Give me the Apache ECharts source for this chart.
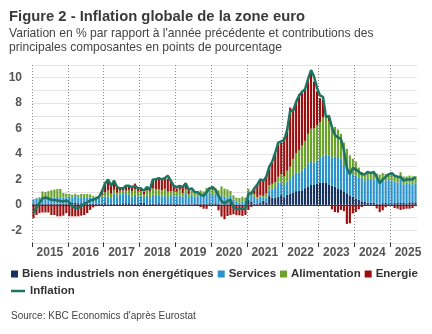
<!DOCTYPE html>
<html>
<head>
<meta charset="utf-8">
<script src="https://cdn.jsdelivr.net/npm/echarts@6/dist/echarts.min.js"></script>
<style>
  html, body { margin: 0; padding: 0; background: #ffffff; }
  #chart { width: 432px; height: 334px; }
</style>
</head>
<body>
<div id="chart"></div>
<script>
// Year labels on the time axis (monthly data from January 2015)
const years = ['2015', '2016', '2017', '2018', '2019', '2020', '2021', '2022', '2023', '2024', '2025'];

// Contributions to euro area HICP inflation, percentage points
const neig = [
  0.1, 0.1, 0.1, 0.1, 0.1, 0.1, 0.1, 0.1, 0.1, 0.1, 0.1, 0.1,
  0.15, 0.15, 0.15, 0.13, 0.13, 0.13, 0.1, 0.1, 0.1, 0.1, 0.1, 0.1,
  0.13, 0.05, 0.08, 0.08, 0.08, 0.11, 0.13, 0.13, 0.13, 0.11, 0.11, 0.11,
  0.18, 0.16, 0.05, 0.08, 0.08, 0.11, 0.13, 0.08, 0.08, 0.11, 0.11, 0.11,
  0.08, 0.1, 0.05, 0.05, 0.08, 0.05, 0.1, 0.08, 0.08, 0.08, 0.1, 0.13,
  0.08, 0.13, 0.08, 0.03, 0.05, 0.05, 0.3, 0.11, -0.03, -0.03, -0.08, -0.13,
  0.4, 0.27, 0.08, 0.11, 0.19, 0.32, 0.19, 0.69, 0.56, 0.53, 0.64, 0.77,
  0.59, 0.79, 0.87, 0.97, 1.08, 1.1, 1.15, 1.31, 1.41, 1.56, 1.56, 1.64,
  1.74, 1.77, 1.72, 1.61, 1.51, 1.43, 1.3, 1.22, 1.07, 0.91, 0.75, 0.65,
  0.51, 0.41, 0.28, 0.23, 0.18, 0.18, 0.18, 0.1, 0.1, 0.13, 0.15, 0.13,
  0.13, 0.15, 0.15, 0.15, 0.15, 0.13, 0.2, 0.2, 0.2
];
const services = [
  0.33, 0.4, 0.42, 0.45, 0.45, 0.48, 0.5, 0.5, 0.52, 0.5, 0.48, 0.48,
  0.5, 0.42, 0.55, 0.45, 0.47, 0.5, 0.5, 0.5, 0.48, 0.45, 0.45, 0.5,
  0.54, 0.59, 0.45, 0.81, 0.59, 0.72, 0.72, 0.72, 0.68, 0.54, 0.68, 0.54,
  0.54, 0.45, 0.68, 0.45, 0.72, 0.59, 0.63, 0.59, 0.68, 0.5, 0.59, 0.59,
  0.6, 0.64, 0.6, 0.87, 0.46, 0.74, 0.55, 0.6, 0.69, 0.69, 0.87, 0.83,
  0.69, 0.74, 0.6, 0.74, 0.6, 0.55, 0.41, 0.32, 0.23, 0.18, 0.28, 0.32,
  0.59, 0.55, 0.55, 0.38, 0.46, 0.29, 0.38, 0.46, 0.71, 0.88, 1.13, 1.0,
  0.97, 1.05, 1.13, 1.39, 1.47, 1.43, 1.55, 1.6, 1.81, 1.81, 1.76, 1.85,
  1.94, 2.11, 2.24, 2.29, 2.2, 2.38, 2.46, 2.42, 2.07, 2.02, 1.76, 1.76,
  1.82, 1.77, 1.82, 1.68, 1.87, 1.87, 1.82, 1.91, 1.82, 1.82, 1.77, 1.82,
  1.78, 1.69, 1.6, 1.83, 1.46, 1.51, 1.46, 1.42, 1.46
];
const food = [
  0.02, 0.05, 0.08, 0.5, 0.45, 0.5, 0.55, 0.6, 0.62, 0.65, 0.35, 0.3,
  0.2, 0.23, 0.17, 0.2, 0.25, 0.22, 0.25, 0.23, 0.12, 0.1, 0.15, 0.2,
  0.33, 0.49, 0.35, 0.29, 0.29, 0.27, 0.27, 0.27, 0.37, 0.45, 0.43, 0.41,
  0.37, 0.2, 0.41, 0.51, 0.51, 0.53, 0.49, 0.47, 0.51, 0.43, 0.37, 0.35,
  0.35, 0.45, 0.29, 0.29, 0.31, 0.31, 0.35, 0.39, 0.37, 0.29, 0.37, 0.41,
  0.42, 0.4, 0.46, 0.68, 0.63, 0.61, 0.38, 0.32, 0.34, 0.36, 0.36, 0.25,
  0.28, 0.26, 0.22, 0.14, 0.12, 0.1, 0.32, 0.4, 0.38, 0.38, 0.44, 0.64,
  0.7, 0.84, 1.0, 1.26, 1.5, 1.78, 1.96, 2.12, 2.36, 2.62, 2.72, 2.76,
  2.82, 3.0, 3.1, 2.7, 2.5, 2.32, 2.16, 1.94, 1.76, 1.48, 1.38, 1.22,
  1.08, 0.75, 0.5, 0.54, 0.5, 0.48, 0.44, 0.46, 0.46, 0.56, 0.52, 0.5,
  0.44, 0.52, 0.56, 0.58, 0.62, 0.6, 0.64, 0.62, 0.58
];
const energy = [
  -1.05, -0.8, -0.65, -0.6, -0.6, -0.6, -0.8, -0.8, -0.9, -0.9, -0.85, -0.65,
  -0.9, -0.9, -0.9, -0.9, -0.85, -0.8, -0.65, -0.4, -0.2, -0.1, -0.05, 0.2,
  0.77, 0.88, 0.7, 0.72, 0.43, 0.18, 0.21, 0.38, 0.37, 0.29, 0.45, 0.28,
  0.21, 0.2, 0.19, 0.25, 0.58, 0.76, 0.9, 0.87, 0.9, 1.02, 0.86, 0.52,
  0.26, 0.35, 0.51, 0.51, 0.37, 0.02, -0.05, -0.06, -0.17, -0.3, -0.31, 0.02,
  0.18, -0.03, -0.43, -0.92, -1.13, -0.88, -0.8, -0.74, -0.78, -0.79, -0.79, -0.66,
  -0.4, -0.16, 0.41, 0.99, 1.24, 1.2, 1.36, 1.46, 1.67, 2.25, 2.61, 2.47,
  3.02, 3.36, 4.65, 3.94, 4.1, 4.41, 4.16, 4.05, 4.27, 4.36, 3.66, 2.68,
  1.89, 1.37, -0.09, 0.24, -0.35, -0.56, -0.61, -0.4, -0.5, -1.5, -1.45, -0.67,
  -0.57, -0.35, -0.17, -0.06, 0.03, 0.02, 0.11, -0.28, -0.57, -0.43, -0.19, 0.01,
  0.15, -0.25, -0.3, -0.4, -0.35, -0.3, -0.3, -0.25, -0.1
];
// Headline HICP inflation, % y/y
const inflation = [
  -0.65, -0.2, 0.15, 0.5, 0.58, 0.5, 0.4, 0.38, 0.35, 0.3, 0.26, 0.35,
  0.2, -0.1, -0.25, -0.25, -0.1, 0.1, 0.2, 0.35, 0.4, 0.5, 0.65, 1.1,
  1.7, 2.0, 1.5, 1.9, 1.4, 1.3, 1.3, 1.5, 1.5, 1.4, 1.5, 1.3,
  1.3, 1.1, 1.4, 1.2, 2.0, 2.0, 2.1, 2.0, 2.1, 2.3, 1.9, 1.5,
  1.4, 1.5, 1.4, 1.7, 1.2, 1.3, 1.0, 1.0, 0.8, 0.7, 1.0, 1.3,
  1.4, 1.2, 0.7, 0.3, 0.1, 0.3, 0.4, -0.2, -0.3, -0.3, -0.3, -0.3,
  0.9, 0.9, 1.3, 1.6, 2.0, 1.9, 2.2, 3.0, 3.4, 4.1, 4.9, 5.0,
  5.1, 5.9, 7.4, 7.4, 8.1, 8.6, 8.9, 9.1, 9.9, 10.6, 10.1, 9.2,
  8.6, 8.5, 6.9, 7.0, 6.1, 5.5, 5.3, 5.2, 4.3, 2.9, 2.4, 2.9,
  2.8, 2.6, 2.4, 2.4, 2.6, 2.5, 2.6, 2.2, 1.7, 2.0, 2.2, 2.4,
  2.5, 2.3, 2.2, 2.2, 1.9, 2.0, 2.0, 2.0, 2.2
];

const monthNames = ['01', '02', '03', '04', '05', '06', '07', '08', '09', '10', '11', '12'];
const months = years.flatMap(y => monthNames.map(m => y + '-' + m)).slice(0, inflation.length);

// Year boundaries and year mid-points on a month-index scale
const yearStarts = years.map((y, i) => i * 12 - 0.5);
const yearMids = years.map((y, i) => i * 12 + 5.5);

const FONT = '"Liberation Sans", Arial, sans-serif';
const C_NEIG = '#17325f';
const C_SERV = '#2a93cc';
const C_FOOD = '#6aa22c';
const C_ENER = '#990f0f';
const C_INFL = '#1d7461';

const barBase = {
  type: 'bar',
  stack: 'contrib',
  xAxisIndex: 0,
  yAxisIndex: 0,
  barCategoryGap: '28%',
  silent: true
};

const chart = echarts.init(document.getElementById('chart'), null, { renderer: 'canvas' });
chart.setOption({
  animation: false,
  backgroundColor: '#ffffff',
  textStyle: { fontFamily: FONT },
  title: [
    {
      text: 'Figure 2 - Inflation globale de la zone euro',
      left: 9, top: 9, padding: 0,
      textStyle: { fontFamily: FONT, fontSize: 14.8, fontWeight: 'bold', color: '#3a3a3a' }
    },
    {
      text: "Variation en % par rapport à l'année précédente et contributions des\nprincipales composantes en points de pourcentage",
      left: 9, top: 27, padding: 0,
      textStyle: { fontFamily: FONT, fontSize: 12.1, lineHeight: 13.5, fontWeight: 'normal', color: '#444444' }
    },
    {
      text: "Source: KBC Economics d'après Eurostat",
      left: 11, top: 311, padding: 0,
      textStyle: { fontFamily: FONT, fontSize: 10, fontWeight: 'normal', color: '#444444' }
    }
  ],
  legend: [
    {
      data: ['Biens industriels non énergétiques', 'Services', 'Alimentation', 'Energie'],
      left: 11, top: 268, width: 420, padding: 0,
      icon: 'rect', itemWidth: 7, itemHeight: 7, itemGap: 4,
      selectedMode: false,
      textStyle: { fontFamily: FONT, fontSize: 11.5, fontWeight: 'bold', color: '#333333', padding: [0, 0, 0, -1] }
    },
    {
      data: ['Inflation'],
      left: 11, top: 285, padding: 0,
      icon: 'rect', itemWidth: 14, itemHeight: 2.5,
      selectedMode: false,
      textStyle: { fontFamily: FONT, fontSize: 11.5, fontWeight: 'bold', color: '#333333' }
    }
  ],
  grid: { left: 32, right: 15, top: 65, bottom: 91, containLabel: false },
  xAxis: [
    {
      type: 'category',
      data: months,
      boundaryGap: true,
      position: 'bottom',
      axisLine: { show: false },
      axisTick: { show: false },
      axisLabel: { show: false },
      splitLine: { show: false }
    },
    {
      type: 'value',
      min: -0.5,
      max: months.length - 0.5,
      position: 'bottom',
      axisLine: { show: false },
      axisTick: {
        show: true,
        customValues: yearStarts,
        length: 4,
        lineStyle: { color: '#333333', width: 1 }
      },
      axisLabel: {
        show: true,
        customValues: yearMids,
        formatter: v => years[Math.round((v - 5.5) / 12)],
        fontFamily: FONT, fontSize: 12, fontWeight: 'bold', color: '#555555',
        margin: 4
      },
      splitLine: {
        show: true,
        lineStyle: { type: [1, 2], color: '#8a8a8a', width: 1 }
      }
    }
  ],
  yAxis: {
    type: 'value',
    min: -3,
    max: 11,
    interval: 1,
    axisLine: { show: false },
    axisTick: { show: false },
    axisLabel: {
      formatter: v => (v % 2 === 0 ? String(v) : ''),
      fontFamily: FONT, fontSize: 12, fontWeight: 'bold', color: '#555555',
      margin: 10
    },
    splitLine: { lineStyle: { color: '#e4e4e4', width: 1 } }
  },
  series: [
    Object.assign({}, barBase, { name: 'Biens industriels non énergétiques', data: neig, itemStyle: { color: C_NEIG } }),
    Object.assign({}, barBase, { name: 'Services', data: services, itemStyle: { color: C_SERV } }),
    Object.assign({}, barBase, { name: 'Alimentation', data: food, itemStyle: { color: C_FOOD } }),
    Object.assign({}, barBase, {
      name: 'Energie', data: energy, itemStyle: { color: C_ENER },
      markLine: {
        silent: true,
        symbol: ['none', 'none'],
        label: { show: false },
        lineStyle: { color: '#2a3b58', width: 1, type: 'solid' },
        data: [{ yAxis: 0 }]
      }
    }),
    {
      name: 'Inflation',
      type: 'line',
      xAxisIndex: 0,
      yAxisIndex: 0,
      data: inflation,
      symbol: 'none',
      z: 5,
      silent: true,
      itemStyle: { color: C_INFL },
      lineStyle: { color: C_INFL, width: 2.5 }
    }
  ]
});
</script>
</body>
</html>
